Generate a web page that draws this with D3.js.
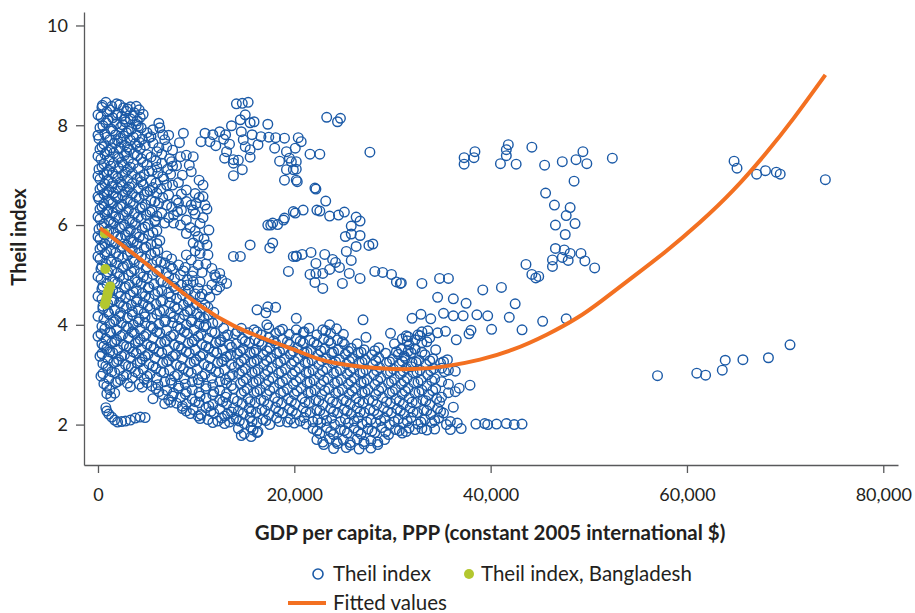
<!DOCTYPE html>
<html>
<head>
<meta charset="utf-8">
<script src="https://cdn.jsdelivr.net/npm/d3@7"></script>
<style>
  body { margin: 0; background: #fff; }
  text { font-family: Lato, "Open Sans", sans-serif; fill: #231f20; }
</style>
</head>
<body>
<svg id="chart" width="915" height="613"></svg>
<script>
// Country-year observations: [GDP per capita (thousand constant 2005 intl $), Theil index]
const obsUnder14k = [
  [0.8,8.46],[1.9,8.43],[0.4,8.36],[1.4,8.38],[2.6,8.35],[3.3,8.37],[4.2,8.31],
  [0.9,8.27],[2.0,8.24],[2.9,8.28],[3.7,8.25],
  [0.3,8.17],[1.5,8.15],[2.4,8.18],[3.3,8.13],[4.3,8.16],
  [0.8,8.05],[1.9,8.03],[2.8,8.07],[3.9,8.02],[6.2,8.04],
  [0.2,7.95],[1.3,7.93],[2.3,7.96],[3.4,7.92],[4.4,7.95],[5.6,7.91],
  [0.7,7.83],[1.8,7.81],[2.9,7.85],[3.9,7.80],[6.6,7.81],[8.7,7.84],
  [0.1,7.73],[1.2,7.71],[2.3,7.74],[3.3,7.70],[4.5,7.72],[6.8,7.71],
  [0.6,7.62],[1.7,7.64],[2.7,7.60],[3.8,7.63],[5.6,7.64],[7.0,7.57],
  [0.2,7.52],[1.2,7.50],[2.2,7.54],[3.2,7.51],[4.3,7.53],[7.6,7.50],
  [0.7,7.42],[1.6,7.44],[2.7,7.40],[3.7,7.43],[5.0,7.41],[8.4,7.37],[9.0,7.40],
  [0.3,7.32],[1.1,7.30],[2.1,7.34],[3.1,7.31],[4.4,7.33],[5.9,7.29],[7.3,7.33],
  [0.6,7.22],[1.6,7.24],[2.6,7.20],[3.6,7.23],[5.0,7.21],[6.5,7.24],[8.0,7.19],
  [0.1,7.12],[1.1,7.10],[2.1,7.14],[3.0,7.11],[4.1,7.13],[5.5,7.09],[7.1,7.12],
  [0.6,7.02],[1.5,7.04],[2.5,7.00],[3.5,7.03],[4.7,7.01],[6.1,7.04],[8.6,7.00],
  [0.2,6.92],[1.0,6.90],[2.0,6.94],[3.0,6.91],[4.0,6.93],[5.4,6.89],[6.7,6.92],
  [0.7,6.82],[1.5,6.84],[2.5,6.80],[3.5,6.83],[4.6,6.81],[5.9,6.84],[7.6,6.80],
  [0.2,6.72],[1.1,6.70],[2.0,6.74],[3.0,6.71],[4.1,6.73],[5.3,6.69],[6.4,6.72],[9.0,6.70],
  [0.6,6.62],[1.6,6.64],[2.5,6.60],[3.5,6.63],[4.7,6.61],[6.0,6.64],[7.2,6.60],
  [0.1,6.52],[1.1,6.50],[2.0,6.54],[3.0,6.51],[4.2,6.53],[5.4,6.49],[8.0,6.50],
  [0.6,6.42],[1.5,6.44],[2.5,6.40],[3.6,6.43],[4.8,6.41],[6.2,6.44],[7.0,6.40],[9.0,6.47],
  [0.2,6.32],[1.0,6.30],[2.0,6.34],[3.1,6.31],[4.3,6.33],[5.5,6.29],[8.5,6.30],[11.1,6.32],
  [0.7,6.22],[1.5,6.24],[2.6,6.20],[3.7,6.23],[4.9,6.21],[6.5,6.24],[7.7,6.20],
  [0.2,6.12],[1.1,6.10],[2.1,6.14],[3.2,6.11],[4.4,6.13],[5.8,6.09],[9.0,6.10],
  [0.6,6.02],[1.6,6.04],[2.7,6.00],[3.8,6.03],[5.1,6.01],[6.8,6.04],[7.7,6.04],
  [0.1,5.92],[1.1,5.90],[2.2,5.94],[3.3,5.91],[4.5,5.93],[6.0,5.89],[11.3,5.90],
  [0.6,5.82],[1.6,5.84],[2.8,5.80],[3.9,5.83],[5.2,5.81],[10.2,5.77],
  [0.2,5.72],[1.2,5.70],[2.3,5.74],[3.4,5.71],[4.6,5.73],[6.3,5.69],
  [0.7,5.62],[1.8,5.64],[2.9,5.60],[4.0,5.63],[5.4,5.61],[9.7,5.64],[11.1,5.60],
  [0.2,5.52],[1.3,5.50],[2.4,5.54],[3.5,5.51],[4.7,5.53],[6.1,5.49],
  [0.7,5.42],[1.8,5.44],[3.0,5.40],[4.1,5.43],[5.4,5.41],[10.4,5.43],[11.2,5.40],
  [0.2,5.32],[1.3,5.30],[2.5,5.34],[3.6,5.31],[4.8,5.33],[6.0,5.29],[7.5,5.32],[9.5,5.30],
  [0.8,5.22],[1.9,5.24],[3.0,5.20],[4.2,5.23],[5.5,5.21],[6.8,5.24],[8.2,5.20],
  [0.3,5.12],[1.4,5.10],[2.5,5.14],[3.7,5.11],[4.9,5.13],[6.2,5.09],[7.6,5.12],[9.7,5.07],[11.6,5.13],
  [0.9,5.02],[2.0,5.04],[3.1,5.00],[4.3,5.03],[5.6,5.01],[7.0,5.04],[8.4,5.00],[11.9,5.00],[12.4,5.03],
  [0.3,4.92],[1.5,4.90],[2.6,4.94],[3.8,4.91],[5.0,4.93],[6.4,4.89],[7.8,4.92],[9.1,4.90],[12.6,4.90],
  [0.9,4.82],[2.0,4.84],[3.2,4.80],[4.4,4.83],[5.7,4.81],[7.1,4.84],[8.5,4.80],[9.7,4.86],[13.1,4.83],
  [0.4,4.72],[1.5,4.70],[2.7,4.74],[3.9,4.71],[5.1,4.73],[6.5,4.69],[7.9,4.72],[9.2,4.70],[10.2,4.73],[11.1,4.70],[12.1,4.70],
  [1.0,4.62],[2.1,4.64],[3.3,4.60],[4.5,4.63],[5.8,4.61],[7.2,4.64],[8.6,4.60],[9.9,4.62],
  [0.4,4.52],[1.6,4.50],[2.8,4.54],[4.0,4.51],[5.2,4.53],[6.6,4.49],[8.0,4.52],[9.3,4.50],[10.4,4.56],
  [1.0,4.42],[2.2,4.44],[3.4,4.40],[4.6,4.43],[5.9,4.41],[7.3,4.44],[8.7,4.40],[10.0,4.42],[10.9,4.40],
  [0.5,4.32],[1.7,4.30],[2.9,4.34],[4.1,4.31],[5.3,4.33],[6.7,4.29],[8.1,4.32],[9.4,4.30],[10.6,4.33],
  [1.1,4.22],[2.3,4.24],[3.5,4.20],[4.7,4.23],[6.0,4.21],[7.4,4.24],[8.8,4.20],[10.1,4.22],[11.2,4.20],
  [0.6,4.12],[1.8,4.10],[3.0,4.14],[4.2,4.11],[5.5,4.13],[6.9,4.09],[8.3,4.12],[9.6,4.10],[10.8,4.13],
  [1.2,4.02],[2.4,4.04],[3.6,4.00],[4.8,4.03],[6.2,4.01],[7.6,4.04],[9.0,4.00],[10.3,4.02],[11.7,4.03],
  [0.7,3.92],[1.9,3.90],[3.1,3.94],[4.3,3.91],[5.6,3.93],[7.0,3.89],[8.4,3.92],[9.8,3.90],[10.8,3.96],[12.8,3.93],
  [0.3,3.82],[1.3,3.84],[2.5,3.80],[3.7,3.83],[4.9,3.81],[6.3,3.84],[7.7,3.80],[9.1,3.83],[10.5,3.81],[11.9,3.84],[13.2,3.80],
  [0.8,3.72],[1.9,3.70],[3.1,3.74],[4.3,3.71],[5.6,3.73],[7.0,3.69],[8.4,3.72],[9.8,3.70],[11.2,3.73],[12.5,3.70],
  [0.4,3.62],[1.4,3.64],[2.6,3.60],[3.8,3.63],[5.0,3.61],[6.4,3.64],[7.8,3.60],[9.2,3.63],[10.6,3.61],[12.0,3.64],[13.4,3.60],
  [0.9,3.52],[2.0,3.50],[3.2,3.54],[4.4,3.51],[5.7,3.53],[7.1,3.49],[8.5,3.52],[9.9,3.50],[11.3,3.53],[12.7,3.50],
  [0.4,3.42],[1.5,3.44],[2.7,3.40],[3.9,3.43],[5.1,3.41],[6.5,3.44],[7.9,3.40],[9.3,3.43],[10.7,3.41],[12.1,3.44],[13.5,3.40],
  [1.0,3.32],[2.1,3.30],[3.3,3.34],[4.5,3.31],[5.8,3.33],[7.2,3.29],[8.6,3.32],[10.0,3.30],[11.4,3.33],[12.8,3.30],
  [0.5,3.22],[1.6,3.24],[2.8,3.20],[4.0,3.23],[5.2,3.21],[6.6,3.24],[8.0,3.20],[9.4,3.23],[10.8,3.21],[12.2,3.24],[13.6,3.20],
  [1.0,3.12],[2.2,3.10],[3.4,3.14],[4.6,3.11],[5.9,3.13],[7.3,3.09],[8.7,3.12],[10.1,3.10],[11.5,3.13],[12.9,3.10],
  [0.5,3.02],[1.7,3.04],[2.9,3.00],[4.1,3.03],[5.3,3.01],[6.7,3.04],[8.1,3.00],[9.5,3.03],[10.9,3.01],[12.3,3.04],[13.7,3.00],
  [1.1,2.92],[2.3,2.90],[3.5,2.94],[4.7,2.91],[6.0,2.93],[7.4,2.89],[8.8,2.92],[10.2,2.90],[11.6,2.93],[13.0,2.90],
  [0.6,2.82],[1.8,2.84],[3.0,2.83],[4.2,2.81],[5.0,2.84],[6.1,2.80],[7.5,2.83],[8.9,2.81],[10.3,2.84],[11.7,2.80],[13.1,2.83],
  [1.2,2.70],[5.9,2.72],[7.0,2.69],[8.2,2.73],[9.6,2.70],[11.0,2.72],[12.4,2.69],[13.8,2.72],
  [0.9,2.62],[1.7,2.63],[6.6,2.60],[7.7,2.63],[8.9,2.61],[10.3,2.64],[11.7,2.60],[13.1,2.62],
  [5.6,2.52],[7.2,2.50],[8.4,2.54],[9.6,2.51],[11.0,2.53],[12.4,2.49],[13.8,2.52],
  [6.8,2.42],[8.0,2.43],[9.0,2.41],[10.3,2.44],[11.7,2.40],[13.1,2.42],
  [8.6,2.32],[9.7,2.30],[11.0,2.34],[12.4,2.31],[13.8,2.33],
  [9.4,2.22],[10.5,2.20],[11.8,2.23],[13.2,2.21],
  [10.4,2.12],[11.2,2.10],[12.6,2.13],[13.8,2.11],
  [11.7,2.04],[12.9,2.02],
  [0.8,2.34],[0.9,2.27],[1.1,2.21],[1.4,2.15],[1.7,2.09],[2.0,2.05],[2.4,2.06],[2.8,2.07],[3.3,2.09],[3.8,2.13],[4.3,2.15],[4.8,2.14]
];

// further low-income observations lying between those above
const obsUnder14kMore = [
  [0.45,8.40],[1.2,8.31],[2.2,8.41],[3.0,8.33],[3.9,8.38],[4.6,8.22],
  [0.0,8.21],[1.0,8.10],[1.9,8.20],[2.7,8.12],[3.6,8.19],[4.0,8.09],
  [0.5,7.99],[1.5,7.89],[2.5,8.01],[3.1,7.88],[4.1,7.98],[5.0,7.85],[6.3,7.95],
  [0.0,7.80],[0.9,7.76],[2.0,7.69],[2.6,7.79],[3.6,7.76],[4.2,7.66],[5.4,7.77],[7.2,7.80],
  [0.4,7.57],[1.4,7.55],[2.4,7.66],[3.0,7.56],[4.0,7.58],[4.8,7.60],[6.2,7.55],[8.3,7.65],[5.2,7.75],
  [0.0,7.38],[0.9,7.47],[2.0,7.37],[2.9,7.46],[4.0,7.39],[5.4,7.36],[6.5,7.42],[6.0,7.47],
  [0.4,7.17],[1.3,7.18],[2.4,7.26],[3.3,7.16],[4.6,7.26],[6.0,7.16],[7.6,7.18],[7.5,7.27],[9.3,7.20],
  [0.0,6.98],[0.9,7.06],[1.8,6.98],[2.8,7.06],[4.3,6.97],[5.2,7.08],[6.6,6.97],[7.4,7.02],
  [0.4,6.77],[1.4,6.77],[2.3,6.86],[3.2,6.76],[4.4,6.87],[5.6,6.75],[7.0,6.80],[8.2,6.85],
  [0.0,6.57],[0.9,6.66],[1.8,6.57],[2.8,6.66],[3.9,6.56],[5.0,6.67],[6.6,6.55],[8.5,6.62],[10.3,6.55],
  [0.4,6.37],[1.3,6.46],[2.3,6.37],[3.3,6.46],[4.5,6.36],[5.8,6.47],[7.5,6.36],[8.2,6.44],[9.5,6.40],
  [0.0,6.17],[0.9,6.26],[1.8,6.17],[2.9,6.26],[4.1,6.16],[5.3,6.26],[6.0,6.18],[7.2,6.15],[8.1,6.27],[9.9,6.22],[10.7,6.15],
  [0.4,5.97],[1.3,6.06],[2.4,5.97],[3.5,6.06],[4.8,5.96],[5.8,6.07],[8.4,6.00],[9.4,5.95],[10.4,6.03],
  [0.0,5.77],[0.9,5.86],[2.0,5.77],[3.1,5.86],[4.2,5.76],[5.6,5.85],[9.0,5.83],[9.9,5.88],[10.8,5.72],
  [0.4,5.57],[1.4,5.66],[2.5,5.57],[3.6,5.66],[4.9,5.56],[6.0,5.63],[10.3,5.58],
  [0.0,5.37],[0.9,5.46],[2.1,5.37],[3.3,5.46],[4.4,5.36],[5.8,5.45],[7.0,5.38],[9.0,5.40],[9.9,5.48],
  [0.4,5.17],[1.4,5.26],[2.6,5.17],[3.7,5.26],[5.0,5.16],[6.4,5.26],[7.4,5.17],[8.9,5.15],[10.2,5.20],[11.0,5.22],
  [0.0,4.97],[1.0,5.06],[2.2,4.97],[3.4,5.06],[4.6,4.96],[6.0,5.07],[7.2,4.97],[8.7,5.08],[9.6,4.98],[10.6,5.05],[12.0,4.95],
  [0.5,4.77],[1.7,4.86],[2.8,4.77],[4.0,4.86],[5.2,4.76],[6.6,4.86],[7.7,4.77],[9.1,4.80],[10.4,4.86],[11.6,4.80],[12.4,4.76],
  [0.0,4.57],[1.2,4.66],[2.3,4.57],[3.6,4.66],[4.8,4.57],[6.1,4.67],[7.4,4.56],[8.9,4.68],[10.6,4.62],[11.4,4.55],
  [0.5,4.37],[1.4,4.46],[2.6,4.37],[3.9,4.46],[5.1,4.37],[6.4,4.47],[7.8,4.36],[9.2,4.46],[11.2,4.35],
  [0.0,4.17],[1.0,4.26],[2.2,4.17],[3.5,4.26],[4.8,4.16],[6.3,4.27],[7.7,4.16],[9.1,4.27],[10.4,4.16],[11.8,4.25],
  [0.4,3.97],[1.6,4.06],[2.9,3.97],[4.1,4.06],[5.4,3.97],[6.8,4.06],[8.1,3.97],[9.5,4.06],[11.0,3.99],[12.2,4.05],
  [0.0,3.77],[1.2,3.86],[2.3,3.77],[3.5,3.86],[4.7,3.77],[6.0,3.86],[7.4,3.77],[8.8,3.86],[10.2,3.77],[11.6,3.86],[12.9,3.76],
  [0.6,3.57],[1.7,3.66],[2.9,3.57],[4.1,3.66],[5.4,3.57],[6.8,3.66],[8.2,3.57],[9.6,3.66],[11.0,3.57],[12.4,3.66],[13.6,3.55],
  [0.2,3.37],[1.2,3.46],[2.4,3.37],[3.6,3.46],[4.8,3.37],[6.2,3.46],[7.6,3.37],[9.0,3.46],[10.4,3.37],[11.8,3.46],[13.1,3.36],
  [0.8,3.17],[1.9,3.26],[3.1,3.17],[4.3,3.26],[5.6,3.17],[7.0,3.26],[8.4,3.17],[9.8,3.26],[11.2,3.17],[12.6,3.26],[13.9,3.15],
  [0.3,2.97],[1.4,3.06],[2.6,2.97],[3.8,3.06],[5.0,2.97],[6.4,3.06],[7.8,2.97],[9.2,3.06],[10.6,2.97],[12.0,3.06],[13.4,2.96],
  [0.9,2.77],[2.0,2.86],[3.3,2.76],[4.5,2.75],[5.5,2.77],[6.8,2.86],[8.2,2.77],[9.6,2.86],[11.0,2.77],[12.4,2.86],[13.6,2.78],
  [1.3,2.56],[6.2,2.66],[7.6,2.57],[9.0,2.66],[10.4,2.57],[11.8,2.66],[13.0,2.55],
  [7.4,2.45],[8.6,2.37],[9.9,2.46],[11.3,2.37],[12.7,2.46],
  [9.0,2.27],[10.2,2.17],[11.5,2.26],[12.9,2.17],[13.6,2.25],
  [12.2,2.07],[13.4,2.05]
];

const obs14kTo37k = [
  [14.6,3.93],[15.9,3.90],[17.4,3.94],[18.8,3.91],[20.2,3.90],[21.5,3.93],[22.9,3.90],[24.3,3.92],[33.6,3.88],
  [14.0,3.82],[15.3,3.84],[16.6,3.80],[18.1,3.83],[19.5,3.81],[20.9,3.84],[22.3,3.80],[23.7,3.83],[25.0,3.81],[29.8,3.83],[31.4,3.78],[32.6,3.80],[34.6,3.84],
  [14.7,3.72],[16.0,3.70],[17.4,3.74],[18.8,3.71],[20.2,3.73],[21.6,3.69],[23.0,3.72],[24.4,3.70],[27.3,3.75],[31.0,3.72],[32.3,3.70],[33.8,3.74],[36.5,3.70],
  [14.1,3.62],[15.4,3.64],[16.7,3.60],[18.1,3.63],[19.5,3.61],[20.9,3.64],[22.3,3.60],[23.7,3.63],[25.1,3.61],[26.4,3.62],[30.2,3.62],[31.7,3.60],[33.0,3.64],
  [14.8,3.52],[16.1,3.50],[17.5,3.54],[18.9,3.51],[20.3,3.53],[21.7,3.49],[23.1,3.52],[24.5,3.50],[25.8,3.53],[27.1,3.50],[28.6,3.54],[30.9,3.51],[32.3,3.52],[34.4,3.50],
  [14.2,3.42],[15.5,3.44],[16.8,3.40],[18.2,3.43],[19.6,3.41],[21.0,3.44],[22.4,3.40],[23.8,3.43],[25.2,3.41],[26.5,3.44],[27.9,3.40],[29.3,3.43],[30.6,3.41],[31.9,3.44],[33.3,3.40],
  [14.9,3.32],[16.2,3.30],[17.6,3.34],[19.0,3.31],[20.4,3.33],[21.8,3.29],[23.2,3.32],[24.6,3.30],[25.9,3.33],[27.2,3.30],[28.6,3.34],[30.0,3.31],[31.3,3.33],[32.7,3.29],[34.1,3.32],[35.6,3.30],
  [14.3,3.22],[15.6,3.24],[16.9,3.20],[18.3,3.23],[19.7,3.21],[21.1,3.24],[22.5,3.20],[23.9,3.23],[25.3,3.21],[26.6,3.24],[28.0,3.20],[29.4,3.23],[30.7,3.21],[32.0,3.24],[33.4,3.20],[34.9,3.23],
  [15.0,3.12],[16.3,3.10],[17.7,3.14],[19.1,3.11],[20.5,3.13],[21.9,3.09],[23.3,3.12],[24.7,3.10],[26.0,3.13],[27.3,3.10],[28.7,3.14],[30.1,3.11],[31.4,3.13],[32.8,3.09],[34.2,3.12],[35.0,3.13],[35.7,3.09],
  [14.4,3.02],[15.7,3.04],[17.0,3.00],[18.4,3.03],[19.8,3.01],[21.2,3.04],[22.6,3.00],[24.0,3.03],[25.4,3.01],[26.7,3.04],[28.1,3.00],[29.5,3.03],[30.8,3.01],[32.1,3.04],[33.6,3.00],
  [15.1,2.92],[16.4,2.90],[17.8,2.94],[19.2,2.91],[20.6,2.93],[22.0,2.89],[23.4,2.92],[24.8,2.90],[26.1,2.93],[27.4,2.90],[28.8,2.94],[30.2,2.91],[31.5,2.93],[32.9,2.89],[34.3,2.92],
  [14.5,2.82],[15.8,2.84],[17.1,2.80],[18.5,2.83],[19.9,2.81],[21.3,2.84],[22.7,2.80],[24.1,2.83],[25.5,2.81],[26.8,2.84],[28.2,2.80],[29.6,2.83],[30.9,2.81],[32.2,2.84],[33.5,2.78],[35.7,2.81],[36.8,2.73],[37.9,2.79],
  [15.2,2.72],[16.5,2.70],[17.9,2.74],[19.3,2.71],[20.7,2.73],[22.1,2.69],[23.5,2.72],[24.9,2.70],[26.2,2.73],[27.5,2.70],[28.9,2.74],[30.3,2.71],[31.6,2.73],[33.0,2.69],[34.4,2.72],
  [14.6,2.62],[15.9,2.64],[17.2,2.60],[18.6,2.63],[20.0,2.61],[21.4,2.64],[22.8,2.60],[24.2,2.63],[25.6,2.61],[26.9,2.64],[28.3,2.60],[29.7,2.63],[31.0,2.61],[32.3,2.64],[33.7,2.60],[35.7,2.64],
  [15.3,2.52],[16.6,2.50],[18.0,2.54],[19.4,2.51],[20.8,2.53],[22.2,2.49],[23.6,2.52],[25.0,2.50],[26.3,2.53],[27.6,2.50],[29.0,2.54],[30.4,2.51],[31.7,2.53],[33.1,2.49],[34.5,2.52],[35.0,2.55],
  [14.7,2.42],[16.0,2.44],[17.3,2.40],[18.7,2.43],[20.1,2.41],[21.5,2.44],[22.9,2.40],[24.3,2.43],[25.7,2.41],[27.0,2.44],[28.4,2.40],[29.8,2.43],[31.1,2.41],[32.4,2.44],[33.8,2.40],
  [15.4,2.32],[16.7,2.30],[18.1,2.34],[19.5,2.31],[20.9,2.33],[22.3,2.29],[23.7,2.32],[25.1,2.30],[26.4,2.33],[27.7,2.30],[29.1,2.34],[30.5,2.31],[31.8,2.33],[33.2,2.29],[34.6,2.32],[36.2,2.35],
  [14.8,2.22],[16.1,2.24],[17.4,2.20],[18.8,2.23],[20.2,2.21],[21.6,2.24],[23.0,2.20],[24.4,2.23],[25.8,2.21],[27.1,2.24],[28.5,2.20],[29.9,2.23],[31.2,2.21],[32.5,2.24],[33.9,2.20],[35.2,2.23],
  [14.1,2.12],[15.5,2.14],[16.8,2.10],[18.2,2.13],[19.6,2.11],[21.0,2.14],[22.4,2.10],[23.8,2.13],[25.2,2.11],[26.5,2.14],[27.8,2.10],[29.2,2.13],[30.6,2.11],[31.9,2.14],[33.3,2.10],[34.7,2.13],
  [14.9,2.02],[16.2,2.04],[17.5,2.00],[20.0,2.03],[21.2,2.01],[22.7,2.04],[24.1,2.00],[25.5,2.03],[26.9,2.01],[28.3,2.04],[29.7,2.00],[31.1,2.03],[32.6,2.01],[34.0,2.04],[35.5,2.00],[36.6,2.03],
  [14.3,1.92],[15.6,1.94],[21.9,1.92],[23.3,1.94],[24.7,1.90],[26.1,1.93],[27.5,1.91],[28.9,1.94],[30.3,1.90],[31.7,1.93],[32.3,1.90],[33.0,1.92],[33.5,1.89],[34.3,1.91],[35.9,1.90],[37.0,1.92],
  [14.9,1.82],[16.2,1.84],[22.6,1.82],[24.0,1.80],[25.4,1.83],[26.8,1.81],[28.2,1.84],[29.6,1.80],[31.0,1.83],
  [14.6,1.78],[15.6,1.76],[16.3,1.86],[15.8,1.89],
  [22.3,1.70],[23.6,1.72],[25.0,1.69],[26.4,1.71],[27.8,1.68],[29.2,1.70],
  [23.0,1.60],[24.4,1.62],[25.7,1.59],[27.1,1.61],[28.5,1.60],
  [24.0,1.52],[25.3,1.54],[26.6,1.51],[27.8,1.53]
];

// further middle-income observations lying between those above
const obs14kTo37kMore = [
  [14.2,3.87],[16.2,3.86],[18.5,3.88],[21.0,3.86],[23.2,3.88],[33.0,3.86],
  [15.0,3.67],[16.4,3.66],[17.9,3.68],[19.3,3.66],[20.6,3.67],[22.0,3.65],[23.5,3.68],[24.9,3.66],[31.5,3.68],[33.5,3.66],
  [14.5,3.47],[15.9,3.45],[17.2,3.48],[18.5,3.46],[19.9,3.47],[21.3,3.45],[22.7,3.48],[24.0,3.46],[25.5,3.47],[26.8,3.45],[28.2,3.48],[30.4,3.46],[31.6,3.47],[33.0,3.45],
  [14.6,3.27],[15.9,3.26],[17.2,3.28],[18.6,3.26],[20.0,3.27],[21.4,3.25],[22.8,3.28],[24.2,3.26],[25.6,3.27],[26.9,3.25],[28.3,3.28],[29.7,3.26],[31.0,3.27],[32.4,3.25],[33.8,3.28],[35.2,3.26],
  [14.7,3.07],[16.0,3.06],[17.3,3.08],[18.7,3.06],[20.1,3.07],[21.5,3.05],[22.9,3.08],[24.3,3.06],[25.7,3.07],[27.0,3.05],[28.4,3.08],[29.8,3.06],[31.1,3.07],[32.5,3.05],[33.9,3.08],[35.3,3.06],[36.4,3.07],
  [14.8,2.87],[16.1,2.86],[17.4,2.88],[18.8,2.86],[20.2,2.87],[21.6,2.85],[23.0,2.88],[24.4,2.86],[25.8,2.87],[27.1,2.85],[28.5,2.88],[29.9,2.86],[31.2,2.87],[32.6,2.85],[34.0,2.88],[35.0,2.86],
  [14.9,2.67],[16.2,2.66],[17.5,2.68],[18.9,2.66],[20.3,2.67],[21.7,2.65],[23.1,2.68],[24.5,2.66],[25.9,2.67],[27.2,2.65],[28.6,2.68],[30.0,2.66],[31.3,2.67],[32.7,2.65],[34.1,2.68],[36.4,2.66],
  [14.2,2.47],[15.5,2.46],[16.9,2.48],[18.3,2.46],[19.7,2.47],[21.1,2.45],[22.5,2.48],[23.9,2.46],[25.3,2.47],[26.6,2.45],[28.0,2.48],[29.4,2.46],[30.7,2.47],[32.0,2.45],[33.4,2.48],[34.8,2.46],
  [14.3,2.27],[15.6,2.26],[17.0,2.28],[18.4,2.26],[19.8,2.27],[21.2,2.25],[22.6,2.28],[24.0,2.26],[25.4,2.27],[26.7,2.25],[28.1,2.28],[29.5,2.26],[30.8,2.27],[32.1,2.25],[33.5,2.28],[34.9,2.26],
  [14.4,2.07],[15.7,2.06],[17.1,2.08],[18.5,2.06],[19.3,2.05],[20.6,2.07],[21.9,2.06],[23.3,2.08],[24.7,2.06],[26.1,2.07],[27.4,2.05],[28.8,2.08],[30.2,2.06],[31.5,2.07],[32.9,2.05],[34.3,2.08],[35.9,2.06],
  [22.3,1.87],[23.7,1.86],[25.1,1.88],[26.5,1.86],[27.9,1.87],[29.3,1.85],[30.7,1.88],[31.4,1.86],
  [22.9,1.65],[24.3,1.66],[25.7,1.64],[27.1,1.66],[28.5,1.65]
];

const obsSparse = [
  [14.1,8.43],[14.7,8.44],[15.3,8.46],[15.0,8.21],[14.5,8.11],[15.5,8.05],[15.9,8.07],[13.6,7.99],[14.6,7.87],[17.3,8.02],
  [10.9,7.84],[11.7,7.81],[12.4,7.87],[13.0,7.81],[10.5,7.67],[11.4,7.67],[12.0,7.59],[12.8,7.72],[13.4,7.62],[14.8,7.71],
  [15.7,7.81],[16.6,7.77],[17.4,7.76],[18.1,7.75],[19.0,7.74],[15.0,7.57],[15.5,7.51],[16.3,7.61],[18.0,7.54],[13.1,7.47],
  [12.9,7.34],[13.8,7.31],[15.5,7.36],[14.7,7.11],[13.8,6.99],[19.2,7.47],[20.1,7.54],[19.5,7.34],[20.2,7.27],[18.5,7.28],
  [19.2,7.11],[20.2,7.12],[19.0,6.90],[20.2,6.90],[9.7,7.37],[9.5,7.07],[10.3,6.90],[10.7,6.80],[9.9,6.63],[10.7,6.57],
  [10.0,6.43],[10.9,6.40],[9.7,6.30],[19.9,6.27],[20.4,7.75],[20.7,7.67],[21.6,7.42],[22.6,7.42],[19.7,7.27],[20.3,6.87],
  [27.7,7.46],[22.2,6.72],[23.2,6.48],[23.3,8.16],[24.4,8.07],[24.7,8.14],[22.1,6.74],[22.3,6.30],[19.9,7.11],[13.8,7.24],[14.3,7.30],
  [20.1,6.24],[20.9,6.30],[22.6,6.28],[23.6,6.18],[24.5,6.20],[25.1,6.26],[26.3,6.16],[26.7,6.08],[19.0,6.14],[25.8,5.98],
  [25.8,5.82],[26.7,5.79],[25.2,5.77],[27.6,5.59],[28.0,5.62],[26.3,5.57],[25.3,5.47],[25.8,5.29],[20.2,5.38],[20.8,5.41],
  [21.7,5.45],[23.1,5.41],[23.9,5.31],[24.2,5.25],[24.6,5.15],[22.2,5.23],[19.4,5.07],[21.6,5.01],[22.2,5.03],[22.9,5.03],
  [23.6,5.11],[22.1,4.85],[22.9,4.73],[24.9,4.83],[25.6,5.03],[26.7,4.93],[28.2,5.07],[29.0,5.05],[29.9,5.01],[30.4,4.86],
  [30.8,4.83],[33.0,4.83],[13.8,5.37],[14.5,5.37],[15.5,5.60],[17.6,6.00],[18.3,6.01],[17.8,5.64],[17.5,5.54],[20.2,5.37],
  [17.3,6.00],[18.9,6.10],[17.8,6.04],[19.9,5.37],
  [16.2,4.30],[17.3,4.36],[18.1,4.35],[17.1,4.24],[17.2,4.00],[20.2,4.13],[27.0,4.10],[23.6,4.00],[32.0,4.13],
  [34.8,4.93],[35.7,4.93],[30.9,4.84],[34.6,4.55],[36.2,4.52],[37.5,4.43],[39.2,4.70],[41.1,4.75],[42.5,4.42],[35.2,4.23],
  [36.2,4.18],[37.2,4.18],[38.6,4.20],[39.7,4.18],[41.9,4.15],[45.3,4.07],[47.7,4.12],[43.2,3.90],[40.1,3.91],[37.8,3.82],
  [38.0,3.89],[35.4,3.87],[32.9,4.21],[33.9,4.12],[32.8,3.78],[31.6,3.76],[32.3,3.51],[31.2,3.37],[31.9,3.16],
  [38.5,2.01],[39.4,2.02],[39.7,2.00],[40.6,2.01],[41.6,2.02],[42.4,2.00],[43.2,2.01]
];

const obsOver37k = [
  [37.3,7.35],[37.3,7.22],[38.3,7.35],[38.4,7.47],[41.0,7.23],[41.6,7.39],[41.6,7.51],[41.8,7.61],[42.6,7.22],[44.2,7.56],
  [45.5,7.20],[47.3,7.27],[48.7,7.31],[49.4,7.47],[49.8,7.23],[52.4,7.34],[48.5,6.88],[45.6,6.64],[46.5,6.40],[48.1,6.35],
  [47.7,6.19],[46.6,6.00],[48.6,6.03],[47.6,5.81],[46.6,5.53],[47.5,5.50],[48.1,5.43],[49.2,5.43],[46.3,5.30],[47.3,5.35],
  [47.9,5.29],[49.6,5.28],[50.6,5.14],[46.3,5.17],[43.6,5.21],[44.2,5.01],[44.6,4.94],[44.9,4.97],
  [64.8,7.28],[65.1,7.14],[67.1,7.02],[68.0,7.09],[69.1,7.06],[69.5,7.02],[74.1,6.91],
  [57.0,2.98],[61.0,3.03],[61.9,2.99],[63.6,3.09],[63.9,3.29],[65.7,3.30],[68.3,3.34],[70.5,3.60]
];

// Bangladesh observations
const bangladesh = [
  [0.7,5.83],[0.75,5.12],[1.25,4.77],[1.1,4.71],[1.0,4.65],[0.95,4.59],[0.85,4.53],[0.8,4.47],[0.7,4.41]
];

// Fitted values of the Theil index against GDP per capita
const fittedGdp = [0.2, 3.6, 7.0, 10.4, 13.8, 17.2, 20.6, 22.6, 25.3, 28.7, 32.1, 35.5, 38.9, 42.3, 45.7, 49.1, 51.1, 54.5, 57.9, 61.3, 64.7, 68.1, 70.8, 74.1];
const fittedTheil = [5.94, 5.43, 4.90, 4.36, 3.96, 3.70, 3.46, 3.29, 3.19, 3.12, 3.10, 3.16, 3.29, 3.49, 3.79, 4.16, 4.45, 4.96, 5.47, 6.04, 6.67, 7.44, 8.11, 9.01];

const xTickValues = [0, 20, 40, 60, 80];
const xTickLabels = ["0", "20,000", "40,000", "60,000", "80,000"];
const yTickValues = [2, 4, 6, 8, 10];
const legendLabels = ["Theil index", "Theil index, Bangladesh", "Fitted values"];

const blue = "#1b5aa7", green = "#b3c72f", orange = "#f37021", axisGrey = "#58595b";

const svg = d3.select("#chart");

const x = d3.scaleLinear().domain([-1.425, 81.5]).range([84, 898]);
const y = d3.scaleLinear().domain([1.19, 10.27]).range([465, 12]);

// axes
const xAxis = svg.append("g").attr("transform", `translate(0,${y.range()[0]})`)
  .call(d3.axisBottom(x).tickValues(xTickValues).tickFormat((d, i) => xTickLabels[i])
    .tickSize(8).tickSizeOuter(0).tickPadding(15));
const yAxis = svg.append("g").attr("transform", `translate(${x.range()[0]},0)`)
  .call(d3.axisLeft(y).tickValues(yTickValues).tickSize(8).tickSizeOuter(0).tickPadding(8));
[xAxis, yAxis].forEach(g => {
  g.select(".domain").attr("stroke", axisGrey).attr("stroke-width", 1.3);
  g.selectAll(".tick line").attr("stroke", axisGrey).attr("stroke-width", 1.3);
  g.selectAll(".tick text").attr("font-family", "Lato, 'Open Sans', sans-serif")
    .attr("font-size", 18).attr("fill", "#231f20");
});

// all country observations as hollow circles
const allObs = obsUnder14k.concat(obsUnder14kMore, obs14kTo37k, obs14kTo37kMore, obsSparse, obsOver37k);
svg.append("g").selectAll("circle").data(allObs).join("circle")
  .attr("cx", d => x(d[0])).attr("cy", d => y(d[1])).attr("r", 4.8)
  .attr("fill", "none").attr("stroke", blue).attr("stroke-width", 1.4);

// Bangladesh, filled
svg.append("g").selectAll("circle").data(bangladesh).join("circle")
  .attr("cx", d => x(d[0])).attr("cy", d => y(d[1])).attr("r", 5)
  .attr("fill", green);

// fitted curve
const fitted = fittedGdp.map((g, i) => [g, fittedTheil[i]]);
svg.append("path").datum(fitted)
  .attr("d", d3.line().x(d => x(d[0])).y(d => y(d[1])).curve(d3.curveBasis))
  .attr("fill", "none").attr("stroke", orange).attr("stroke-width", 4);

// axis titles
svg.append("text").attr("x", 490).attr("y", 540).attr("text-anchor", "middle")
  .attr("font-size", 20.5).attr("font-weight", 700).text("GDP per capita, PPP (constant 2005 international $)");
svg.append("text").attr("transform", "translate(26,237) rotate(-90)").attr("text-anchor", "middle")
  .attr("font-size", 20).attr("font-weight", 700).text("Theil index");

// legend
const leg = svg.append("g").attr("font-size", 20.5);
leg.append("circle").attr("cx", 318).attr("cy", 574).attr("r", 5)
  .attr("fill", "none").attr("stroke", blue).attr("stroke-width", 1.6);
leg.append("text").attr("x", 333).attr("y", 581).text(legendLabels[0]);
leg.append("circle").attr("cx", 469).attr("cy", 574).attr("r", 5).attr("fill", green);
leg.append("text").attr("x", 481).attr("y", 581).text(legendLabels[1]);
leg.append("line").attr("x1", 288).attr("x2", 326).attr("y1", 603).attr("y2", 603)
  .attr("stroke", orange).attr("stroke-width", 4);
leg.append("text").attr("x", 333).attr("y", 610).text(legendLabels[2]);
</script>
</body>
</html>
